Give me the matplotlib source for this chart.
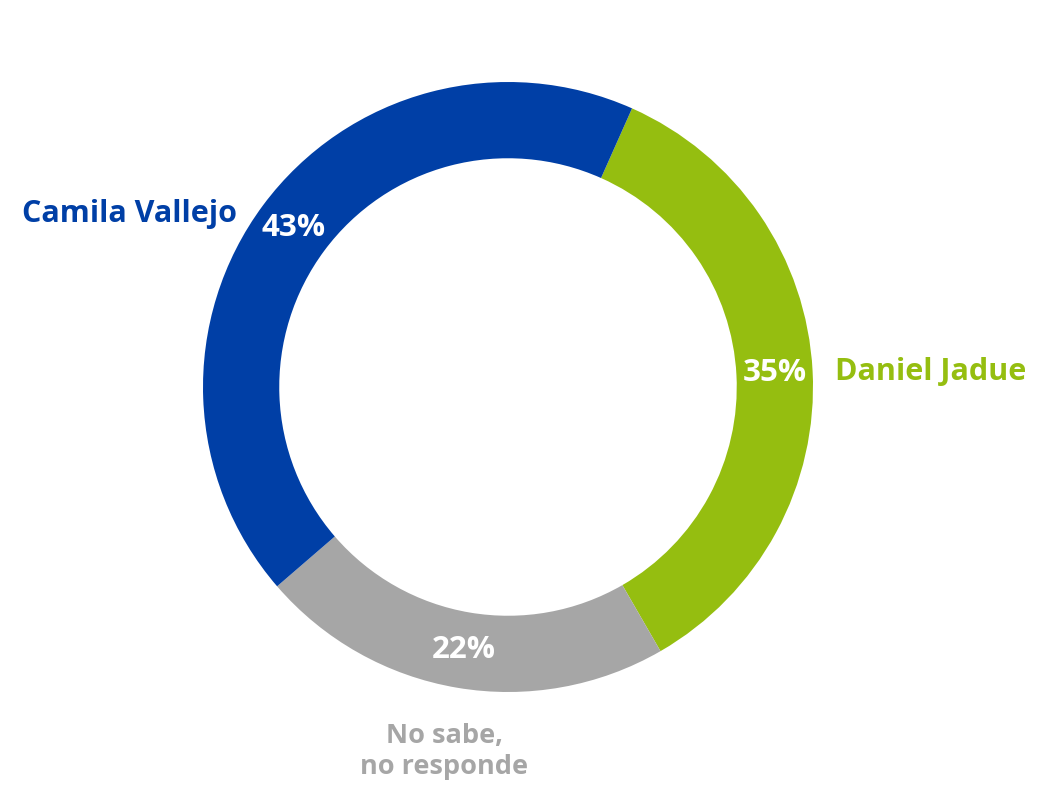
import matplotlib.pyplot as plt

labels = ['Daniel Jadue', 'No sabe,\nno responde', 'Camila Vallejo']
values = [35, 22, 43]
colors = ['#95BE10', '#A6A6A6', '#003FA6']

plt.rcParams['font.family'] = ['Open Sans', 'DejaVu Sans']

fig = plt.figure(figsize=(10.38, 7.88), dpi=100)
ax = fig.add_axes([0, 0, 1, 1])

R = 305.0  # outer radius in pixels
cx, cy = 508, 387

wedges, texts, autotexts = ax.pie(
    values, colors=colors, startangle=66, counterclock=False,
    radius=1, wedgeprops=dict(width=0.25, edgecolor='none'),
    autopct='%1.0f%%', pctdistance=0.875,
    textprops=dict(color='white', fontsize=22.5, fontweight='bold'))

ax.set_xlim(-cx / R, (1038 - cx) / R)
ax.set_ylim(-(788 - cy) / R, cy / R)
ax.set_aspect('auto')
ax.axis('off')


def px(x, y):
    return (x - cx) / R, (cy - y) / R


ax.text(*px(237, 214), labels[2], color=colors[2], fontsize=22,
        fontweight='bold', ha='right', va='center')
ax.text(*px(835, 372), labels[0], color=colors[0], fontsize=22,
        fontweight='bold', ha='left', va='center')
ax.text(*px(444, 752), labels[1], color=colors[1], fontsize=19.5,
        fontweight='bold', ha='center', va='center', linespacing=1.25)

fig.savefig('out.png', dpi=100)
